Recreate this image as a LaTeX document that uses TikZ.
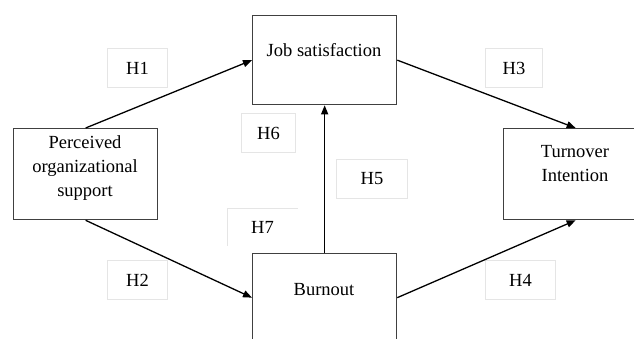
\documentclass[tikz,border=0pt]{standalone}
\usepackage{fontspec}
\setmainfont{Liberation Serif}
\usetikzlibrary{arrows.meta}

\tikzset{
    varbox/.style={draw=black!75, line width=1.3pt, minimum width=144pt, anchor=north west, inner sep=0pt},
    vartext/.style={align=center, inner sep=0pt, font=\fontsize{18.5}{24}\selectfont},
    hypbox/.style={draw=black!10, line width=1pt, anchor=north west, inner sep=0pt, minimum height=39pt, font=\fontsize{18.5}{24}\selectfont},
    link/.style={line width=1.3pt, -{Triangle[length=9pt,width=7pt]}}
}

\begin{document}
\begin{tikzpicture}[x=1pt, y=-1pt]
        \clip (0, 0) rectangle (634, 338);

        % Variables
        \node[varbox, minimum height=89pt] (js) at (252, 15) {};
        \node[varbox, minimum height=91pt] (pos) at (13, 128) {};
        \node[varbox, minimum height=91pt] (ti) at (503, 128) {};
        \node[varbox, minimum height=88pt] (bo) at (252, 253) {};

        \node[vartext] (jsText) at (324, 50) {Job satisfaction};
        \node[vartext] (posText) at (85, 168) {Perceived\\organizational\\support};
        \node[vartext] (tiText) at (575, 164) {Turnover\\Intention};
        \node[vartext] (boText) at (324, 290) {Burnout};

        % Hypotheses
        \node[hypbox, minimum width=60pt] (h1) at (107, 48) {H1};
        \node[hypbox, minimum width=60pt] (h2) at (107, 260) {H2};
        \node[hypbox, minimum width=57pt] (h3) at (485, 48) {H3};
        \node[hypbox, minimum width=70pt] (h4) at (485, 260) {H4};
        \node[hypbox, minimum width=71pt] (h5) at (336, 159) {H5};
        \node[hypbox, minimum width=54pt] (h6) at (241, 113) {H6};
        \node[hypbox, draw=none, minimum width=70pt, minimum height=37pt] (h7) at (227, 208) {H7};
        \draw[draw=black!10, line width=1pt] (h7.south west) -- (h7.north west) -- (h7.north east);

        % Paths
        \draw[link] (pos.north) -- (js.west);
        \draw[link] (pos.south) -- (bo.west);
        \draw[link] (js.east) -- (ti.north);
        \draw[link] (bo.east) -- (ti.south);
        \draw[link] (bo.north) -- (js.south);
    \end{tikzpicture}
\end{document}
